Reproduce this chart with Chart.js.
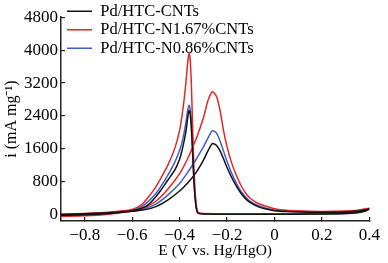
<!DOCTYPE html>
<html><head><meta charset="utf-8">
<script src="https://cdn.jsdelivr.net/npm/chart.js@4"></script>
<style>html,body{margin:0;padding:0;background:#fff}#wrap{width:388px;height:263px;position:relative}</style>
</head><body><div id="wrap"><canvas id="c" width="388" height="263"></canvas></div>
<script>
const seriesNames = ['Pd/HTC-CNTs', 'Pd/HTC-N1.67%CNTs', 'Pd/HTC-N0.86%CNTs'];
const seriesColors = ['#111111', '#e32626', '#3d5fc8'];
const xTicks = [-0.8, -0.6, -0.4, -0.2, 0, 0.2, 0.4];
const yTicks = [0, 800, 1600, 2400, 3200, 4000, 4800];

// forward scan (negative -> positive potential)
const potentialFwd = [-0.9,-0.8,-0.7,-0.6,-0.55,-0.5,-0.45,-0.4,-0.365,-0.33,-0.3,-0.28,-0.262,-0.245,-0.23,-0.215,-0.2,-0.18,-0.16,-0.14,-0.118,-0.1,-0.07,-0.035,0,0.05,0.13,0.2,0.3,0.35,0.4];
const cntsFwd  = [-10,0,30,85,120,200,360,580,780,1030,1320,1560,1730,1690,1560,1360,1150,900,690,510,370,290,200,140,100,80,65,60,70,90,140];
const n167Fwd  = [-40,-25,15,90,170,330,620,1000,1380,1850,2350,2780,2990,2880,2550,2050,1650,1250,950,700,500,390,280,210,150,110,90,80,90,110,160];
const n086Fwd  = [0,10,35,90,140,260,480,760,1040,1350,1650,1870,2040,1990,1800,1550,1300,1000,760,560,410,320,225,160,120,90,75,70,80,100,150];

// reverse scan (positive -> negative potential)
const potentialRev = [0.4,0.38,0.35,0.3,0.2,0.1,0,-0.1,-0.2,-0.3,-0.32,-0.326,-0.33,-0.335,-0.34,-0.346,-0.351,-0.356,-0.36,-0.365,-0.372,-0.38,-0.39,-0.4,-0.42,-0.45,-0.48,-0.5,-0.533,-0.56,-0.6,-0.65,-0.7,-0.8,-0.9];
const cntsRev  = [140,85,50,30,20,15,15,15,15,20,35,70,180,420,850,1600,2150,2480,2530,2400,2080,1820,1560,1350,1090,840,590,440,240,160,100,70,50,25,5];
const n167Rev  = [160,100,60,40,30,25,20,20,20,30,50,100,250,600,1200,2300,3270,3800,3920,3750,3300,2850,2400,2050,1620,1200,880,680,420,250,130,90,60,35,15];
const n086Rev  = [150,90,55,35,25,20,18,18,18,25,40,80,200,450,900,1700,2300,2580,2660,2560,2300,2020,1760,1560,1280,960,680,520,320,200,115,75,50,25,5];

const FONT = "'Liberation Serif','Times New Roman',serif";
function pts(xs, ys){ return xs.map((x,i)=>({x:x, y:ys[i]})); }
function loop(fy, ry){ return pts(potentialFwd, fy).concat(pts(potentialRev, ry)); }
function fmt(v){ if (Math.abs(v) < 1e-9) return '0'; const s = Math.abs(v).toFixed(1); return v < 0 ? '\u2212' + s : s; }

const datasets = [
  {label: seriesNames[0], data: loop(cntsFwd, cntsRev), borderColor: seriesColors[0]},
  {label: seriesNames[1], data: loop(n167Fwd, n167Rev), borderColor: seriesColors[1]},
  {label: seriesNames[2], data: loop(n086Fwd, n086Rev), borderColor: seriesColors[2]}
].map(d => Object.assign(d, {showLine:true, pointRadius:0, borderWidth:1.5, tension:0.25, fill:false, backgroundColor:d.borderColor}));

new Chart(document.getElementById('c'), {
  type: 'scatter',
  data: {datasets: datasets},
  options: {
    responsive: false, animation: false, devicePixelRatio: 1,
    layout: {padding: {top: 17, right: 12, left: 0, bottom: 0}},
    scales: {
      x: {
        type: 'linear', min: -0.9, max: 0.4,
        afterBuildTicks: s => { s.ticks = xTicks.map(v => ({value: v})); },
        afterFit: s => { s.height = 42; },
        grid: {drawOnChartArea: false, tickLength: -4, color: '#222', lineWidth: 1.2},
        border: {color: '#222', width: 1.5},
        ticks: {font: {family: FONT, size: 17}, color: '#000', padding: 8, autoSkip: false, maxRotation: 0, callback: v => fmt(v)},
        title: {display: true, text: 'E (V vs. Hg/HgO)', font: {family: FONT, size: 15.5}, color: '#000', padding: {top: 0, bottom: 3}}
      },
      y: {
        type: 'linear', min: -150, max: 4800,
        afterBuildTicks: s => { s.ticks = yTicks.map(v => ({value: v})); },
        afterFit: s => { s.width = 61; },
        grid: {drawOnChartArea: false, tickLength: -4, color: '#222', lineWidth: 1.2},
        border: {color: '#222', width: 1.5},
        ticks: {font: {family: FONT, size: 17}, color: '#000', padding: 7, autoSkip: false, callback: v => String(v)},
        title: {display: true, text: 'i (mA mg\u207B\u00B9)', font: {family: FONT, size: 16}, color: '#000', padding: {top: 2, bottom: 0}}
      }
    },
    plugins: {
      legend: {
        position: 'chartArea', align: 'start',
        labels: {font: {family: FONT, size: 16.5}, color: '#000', usePointStyle: true, pointStyle: 'line', pointStyleWidth: 25, boxHeight: 16, padding: 2}
      },
      tooltip: {enabled: false}
    }
  },
  plugins: [{
    id: 'legendPos',
    afterLayout(chart) {
      const lg = chart.legend;
      const w = lg.width, h = lg.height;
      lg.left = 65; lg.top = 1; lg.right = lg.left + w; lg.bottom = lg.top + h;
    }
  }]
});
</script></body></html>
